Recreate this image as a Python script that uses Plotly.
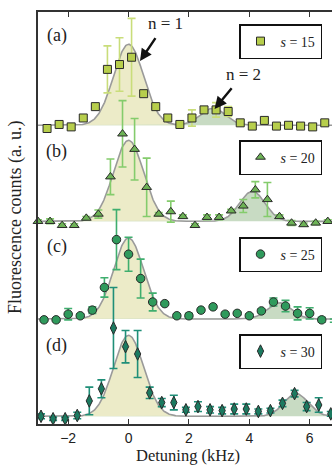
import numpy as np
import plotly.graph_objects as go

# ---------------- data (normalised fluorescence, a.u.) ----------------
x_a = [-2.7, -2.3, -1.9, -1.5, -1.1, -0.7, -0.3, 0.1, 0.5, 0.9, 1.3, 1.7, 2.1, 2.5, 2.9, 3.3, 3.7, 4.1, 4.5, 4.9, 5.3, 5.7, 6.1, 6.5]
y_a = [-0.04, 0.01, -0.02, 0.09, 0.23, 0.69, 0.75, 0.84, 0.39, 0.23, 0.09, 0.01, 0.09, 0.19, 0.19, 0.17, 0.03, -0.01, 0.06, -0.01, 0.0, -0.01, -0.02, 0.03]
e_a = [0.02, 0.02, 0.02, 0.02, 0.02, 0.29, 0.33, 0.48, 0.02, 0.02, 0.02, 0.02, 0.10, 0.03, 0.09, 0.06, 0.02, 0.02, 0.02, 0.02, 0.02, 0.02, 0.02, 0.02]

x_b = [-3.0, -2.6, -2.2, -1.8, -1.4, -1.0, -0.6, -0.2, 0.2, 0.6, 1.0, 1.4, 1.8, 2.2, 2.6, 3.0, 3.4, 3.8, 4.2, 4.6, 5.0, 5.4, 5.8, 6.2, 6.6]
y_b = [0.0, 0.0, -0.05, -0.05, 0.04, 0.09, 0.55, 1.08, 0.89, 0.42, 0.09, 0.12, 0.06, -0.05, 0.05, 0.05, 0.13, 0.19, 0.39, 0.27, 0.06, -0.02, -0.04, -0.02, 0.0]
e_b = [0.02, 0.03, 0.02, 0.02, 0.02, 0.05, 0.22, 0.41, 0.38, 0.36, 0.02, 0.13, 0.02, 0.02, 0.03, 0.03, 0.02, 0.08, 0.10, 0.21, 0.02, 0.03, 0.02, 0.02, 0.02]

x_c = [-2.8, -2.4, -2.0, -1.6, -1.2, -0.8, -0.4, 0.0, 0.4, 0.8, 1.2, 1.6, 2.0, 2.4, 2.8, 3.2, 3.6, 4.0, 4.4, 4.8, 5.2, 5.6, 6.0, 6.4, 6.8]
y_c = [-0.01, -0.01, 0.06, 0.04, 0.11, 0.39, 0.98, 0.80, 0.50, 0.21, 0.19, 0.04, 0.04, 0.11, 0.15, 0.06, 0.07, 0.04, 0.10, 0.21, 0.16, 0.07, 0.07, -0.01, -0.02]
e_c = [0.02, 0.02, 0.07, 0.02, 0.04, 0.12, 0.37, 0.21, 0.24, 0.11, 0.02, 0.02, 0.03, 0.02, 0.02, 0.02, 0.02, 0.02, 0.02, 0.05, 0.07, 0.08, 0.07, 0.03, 0.02]

x_d = [-2.9, -2.5, -2.1, -1.7, -1.3, -0.9, -0.5, -0.1, 0.3, 0.7, 1.1, 1.5, 1.9, 2.3, 2.7, 3.1, 3.5, 3.9, 4.3, 4.7, 5.1, 5.5, 5.9, 6.3, 6.7]
y_d = [0.0, -0.03, -0.03, 0.01, 0.19, 0.34, 1.09, 0.86, 0.77, 0.29, 0.17, 0.17, 0.08, 0.12, 0.08, 0.07, 0.09, 0.09, 0.06, 0.07, 0.16, 0.28, 0.12, 0.14, 0.03]
e_d = [0.03, 0.02, 0.02, 0.04, 0.17, 0.11, 0.50, 0.20, 0.29, 0.07, 0.05, 0.09, 0.03, 0.06, 0.04, 0.04, 0.06, 0.06, 0.03, 0.03, 0.04, 0.04, 0.05, 0.09, 0.03]

# fitted gaussians: n=1 and n=2 sidebands (amplitude, centre kHz, sigma kHz)
fit_n1 = [(1.0, 0.0, 0.50), (1.0, 0.0, 0.50), (1.0, 0.0, 0.50), (1.0, 0.0, 0.50)]
fit_n2 = [(0.21, 2.8, 0.42), (0.37, 4.1, 0.42), (0.20, 5.0, 0.40), (0.28, 5.55, 0.40)]

panel_labels = ["(a)", "(b)", "(c)", "(d)"]
legend_names = ["<i>s</i> = 15", "<i>s</i> = 20", "<i>s</i> = 25", "<i>s</i> = 30"]
x_ticks = [-2, 0, 2, 4, 6]
x_tick_text = ["\u22122", "0", "2", "4", "6"]

# ---------------- style ----------------
offsets = [3.688, 2.502, 1.296, 0.095]       # vertical stacking of panels
label_dy = [1.11, 0.86, 0.89, 0.88]
legend_top_px = [24, 140, 237, 334]
symbols = ["square", "triangle-up", "circle", "diamond-tall"]
sizes = [8, 8.5, 8.5, 9]
fills = ["#b7ce4c", "#6db356", "#2f9a5c", "#1b7a60"]
errcols = ["#c9dd7a", "#84cc6c", "#3fae6e", "#1f8f78"]
n1_fill = "#ecebc8"
n2_fill = "#c8dbc3"
curve_col = "#9a9a9a"
SERIF = "Liberation Serif"
SANS = "Liberation Sans"

W, H = 332, 465
ML, MR, MT, MB = 38, 0, 12, 41
plot_h = H - MT - MB
YMAX = plot_h / 81.0
XR = [-3.0, 6.74]

datasets = [(x_a, y_a, e_a), (x_b, y_b, e_b), (x_c, y_c, e_c), (x_d, y_d, e_d)]

fig = go.Figure()
grid = np.linspace(XR[0], XR[1], 500)

def gauss(p, xs):
    a, c, s = p
    return a * np.exp(-(xs - c) ** 2 / (2 * s * s))

# fills
for i in range(4):
    off = offsets[i]
    for p, col in ((fit_n1[i], n1_fill), (fit_n2[i], n2_fill)):
        g = gauss(p, grid)
        fig.add_trace(go.Scatter(
            x=np.concatenate([grid, grid[::-1]]),
            y=np.concatenate([off + g, np.full_like(grid, off)]),
            fill="toself", fillcolor=col, line=dict(width=0),
            mode="lines", hoverinfo="skip", showlegend=False))
# fit curves
for i in range(4):
    off = offsets[i]
    tot = gauss(fit_n1[i], grid) + gauss(fit_n2[i], grid)
    fig.add_trace(go.Scatter(x=grid, y=off + tot, mode="lines",
                             line=dict(color=curve_col, width=1.6),
                             hoverinfo="skip", showlegend=False))
# data
leg_ids = ["legend", "legend2", "legend3", "legend4"]
for i, (xs, ys, es) in enumerate(datasets):
    off = offsets[i]
    fig.add_trace(go.Scatter(
        x=xs, y=[off + v for v in ys], mode="markers",
        name=legend_names[i], legend=leg_ids[i],
        marker=dict(symbol=symbols[i], size=sizes[i], color=fills[i],
                    line=dict(color="#2a2a2a", width=1)),
        error_y=dict(type="data", array=es, visible=True, color=errcols[i],
                     thickness=1.6, width=4),
        cliponaxis=False))

# panel labels
for i in range(4):
    fig.add_annotation(x=-2.38, y=offsets[i] + label_dy[i], xref="x", yref="y",
                       text=panel_labels[i], showarrow=False,
                       font=dict(family=SERIF, size=18, color="#222"))

# n=1 / n=2 arrows
fig.add_annotation(x=0.38, y=4.48, ax=1.21, ay=4.94, xref="x", yref="y",
                   axref="x", ayref="y", text="n = 1", showarrow=True,
                   arrowhead=2, arrowsize=1, arrowwidth=2.4, arrowcolor="#111",
                   startstandoff=4, font=dict(family=SERIF, size=17, color="#222"))
fig.add_annotation(x=2.85, y=3.89, ax=3.8, ay=4.32, xref="x", yref="y",
                   axref="x", ayref="y", text="n = 2", showarrow=True,
                   arrowhead=2, arrowsize=1, arrowwidth=2.4, arrowcolor="#111",
                   startstandoff=4, font=dict(family=SERIF, size=17, color="#222"))

# axis titles
fig.add_annotation(x=-(ML - 15) / (W - ML - MR), y=0.5, xref="paper", yref="paper",
                   xanchor="center", yanchor="middle",
                   text="Fluorescence counts (a. u.)", textangle=-90, showarrow=False,
                   font=dict(family=SERIF, size=18, color="#222"))
fig.add_annotation(x=0.51, y=-(455 - (H - MB)) / plot_h, xref="paper", yref="paper",
                   xanchor="center", yanchor="middle",
                   text="Detuning (kHz)", showarrow=False,
                   font=dict(family=SERIF, size=16.5, color="#222"))

legends = {}
for i, lid in enumerate(leg_ids):
    legends[lid] = dict(
        x=(322 - ML) / (W - ML - MR), xanchor="right",
        y=((H - MB) - legend_top_px[i]) / plot_h, yanchor="top",
        bgcolor="white", bordercolor="#111", borderwidth=1.5,
        font=dict(family=SERIF, size=14, color="#222"),
        itemwidth=30, tracegroupgap=0)

fig.update_layout(
    width=W, height=H, margin=dict(l=ML, r=MR, t=MT, b=MB),
    plot_bgcolor="white", paper_bgcolor="white", showlegend=True,
    xaxis=dict(range=XR, tickvals=x_ticks, ticktext=x_tick_text,
               ticks="inside", ticklen=5, tickwidth=1.2, tickcolor="#333",
               showline=True, linecolor="#333", linewidth=1.5, mirror="ticks",
               showgrid=False, zeroline=False,
               tickfont=dict(family=SANS, size=14, color="#222")),
    yaxis=dict(range=[0, YMAX], showticklabels=False, ticks="",
               showline=True, linecolor="#333", linewidth=1.5,
               showgrid=False, zeroline=False),
    **legends)

fig.write_html("out.html", config={"displayModeBar": False},
               post_script="document.body.style.margin='0';document.body.style.padding='0';")
